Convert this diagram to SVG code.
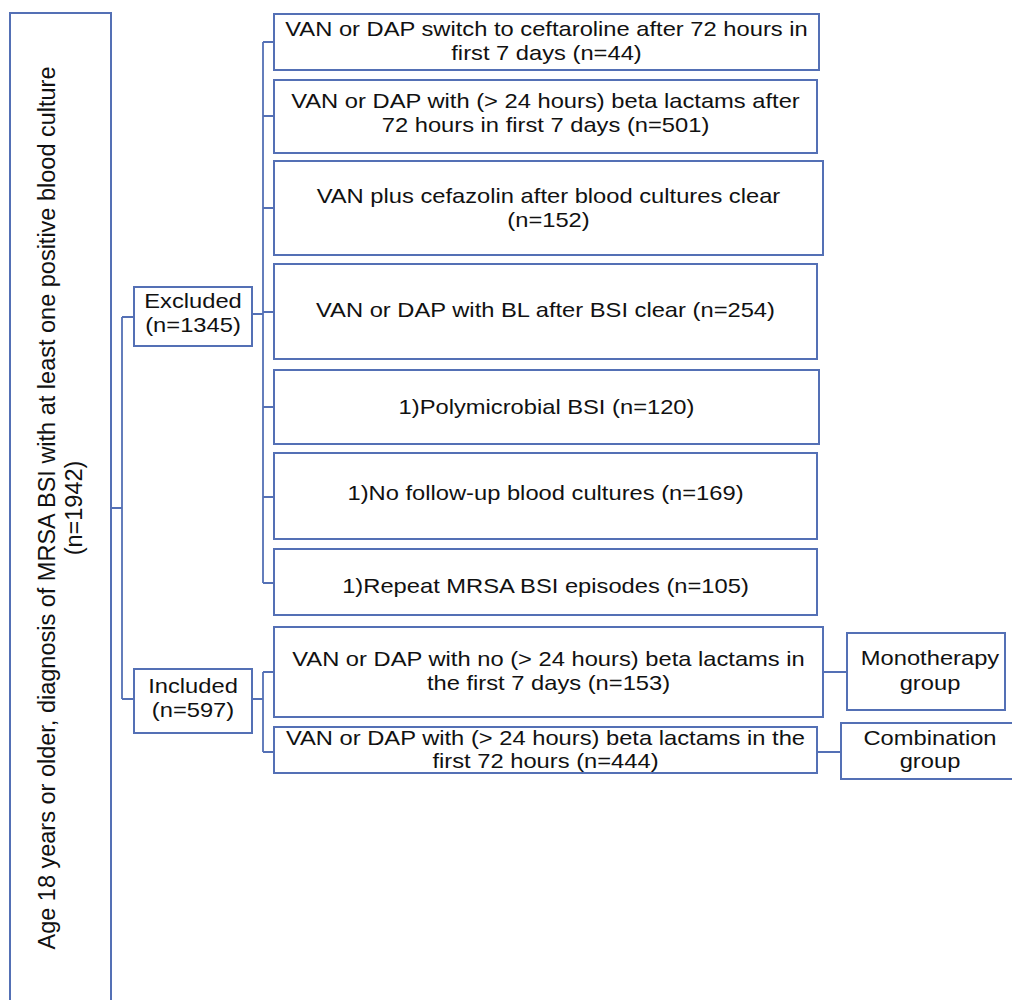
<svg xmlns="http://www.w3.org/2000/svg" width="1012" height="1000" viewBox="0 0 1012 1000">
<style>
.box{fill:#ffffff;stroke:#5470b5;stroke-width:2}
.con{fill:none;stroke:#5470b5;stroke-width:1.8}
text{font-family:"Liberation Sans",Arial,sans-serif;font-size:21px;fill:#111;text-anchor:middle}
.big{font-size:23.5px}
</style>
<rect width="1012" height="1000" fill="#ffffff"/>
<g id="connectors">
<path class="con" d="M111 508H122M122 317V699M122 317H134M122 699H134"/>
<path class="con" d="M252 314H263M263 42V583M263 42H274M263 116H274M263 208H274M263 312H274M263 407H274M263 497H274M263 583H274"/>
<path class="con" d="M252 699H263M263 672V752M263 672H274M263 752H274"/>
<path class="con" d="M823 672H847M817 752H841"/>
</g>
<g id="root">
<rect class="box" x="10" y="13" width="101" height="1000"/>
<text class="big" transform="translate(55 508) rotate(-90)">Age 18 years or older, diagnosis of MRSA BSI with at least one positive blood culture</text>
<text class="big" transform="translate(82 508) rotate(-90)">(n=1942)</text>
</g>
<g id="excluded">
<rect class="box" x="134" y="287" width="118" height="59"/>
<g transform="translate(193 0) scale(1.13 1)"><text x="0" y="308">Excluded</text><text x="0" y="332">(n=1345)</text></g>
</g>
<g id="included">
<rect class="box" x="134" y="669" width="118" height="64"/>
<g transform="translate(193 0) scale(1.13 1)"><text x="0" y="693">Included</text><text x="0" y="717">(n=597)</text></g>
</g>
<g id="ex1">
<rect class="box" x="274" y="14" width="545" height="56"/>
<g transform="translate(546.5 0) scale(1.13 1)"><text x="0" y="36">VAN or DAP switch to ceftaroline after 72 hours in</text><text x="0" y="60">first 7 days (n=44)</text></g>
</g>
<g id="ex2">
<rect class="box" x="274" y="80" width="543" height="73"/>
<g transform="translate(545.5 0) scale(1.13 1)"><text x="0" y="108">VAN or DAP with (&gt; 24 hours) beta lactams after</text><text x="0" y="132">72 hours in first 7 days (n=501)</text></g>
</g>
<g id="ex3">
<rect class="box" x="274" y="161" width="549" height="94"/>
<g transform="translate(548.5 0) scale(1.13 1)"><text x="0" y="203">VAN plus cefazolin after blood cultures clear</text><text x="0" y="227">(n=152)</text></g>
</g>
<g id="ex4">
<rect class="box" x="274" y="264" width="543" height="95"/>
<g transform="translate(545.5 0) scale(1.13 1)"><text x="0" y="317">VAN or DAP with BL after BSI clear (n=254)</text></g>
</g>
<g id="ex5">
<rect class="box" x="274" y="370" width="545" height="74"/>
<g transform="translate(546.5 0) scale(1.13 1)"><text x="0" y="414">1)Polymicrobial BSI (n=120)</text></g>
</g>
<g id="ex6">
<rect class="box" x="274" y="453" width="543" height="86"/>
<g transform="translate(545.5 0) scale(1.13 1)"><text x="0" y="500">1)No follow-up blood cultures (n=169)</text></g>
</g>
<g id="ex7">
<rect class="box" x="274" y="549" width="543" height="66"/>
<g transform="translate(545.5 0) scale(1.13 1)"><text x="0" y="593">1)Repeat MRSA BSI episodes (n=105)</text></g>
</g>
<g id="in1">
<rect class="box" x="274" y="627" width="549" height="90"/>
<g transform="translate(548.5 0) scale(1.13 1)"><text x="0" y="666">VAN or DAP with no (&gt; 24 hours) beta lactams in</text><text x="0" y="690">the first 7 days (n=153)</text></g>
</g>
<g id="in2">
<rect class="box" x="274" y="727" width="543" height="46"/>
<g transform="translate(545.5 0) scale(1.13 1)"><text x="0" y="745">VAN or DAP with (&gt; 24 hours) beta lactams in the</text><text x="0" y="768">first 72 hours (n=444)</text></g>
</g>
<g id="mono">
<rect class="box" x="847" y="633" width="158" height="77"/>
<g transform="translate(930 0) scale(1.13 1)"><text x="0" y="665">Monotherapy</text><text x="0" y="690">group</text></g>
</g>
<g id="combo">
<rect class="box" x="841" y="723" width="180" height="56"/>
<g transform="translate(930 0) scale(1.13 1)"><text x="0" y="745">Combination</text><text x="0" y="768">group</text></g>
</g>
</svg>
